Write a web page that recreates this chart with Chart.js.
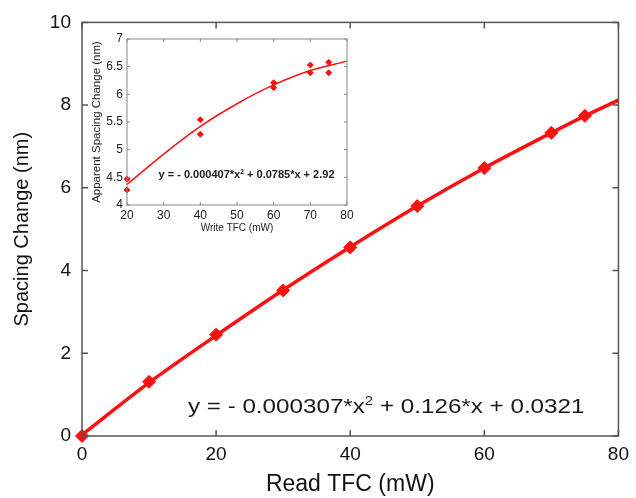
<!DOCTYPE html>
<html>
<head>
<meta charset="utf-8">
<script src="https://cdn.jsdelivr.net/npm/chart.js@4.4.1/dist/chart.umd.min.js"></script>
<style>
  html, body { margin: 0; padding: 0; background: #fff; }
  #wrap { position: relative; width: 636px; height: 498px; }
  #mainChart { position: absolute; left: 0; top: 0; }
  #insetChart { position: absolute; left: 86px; top: 26px; }
</style>
</head>
<body>
<div id="wrap">
  <canvas id="mainChart" width="636" height="498"></canvas>
  <canvas id="insetChart" width="272" height="212"></canvas>
</div>
<script>
// main figure: read TFC vs spacing change
const readTfc = [0, 10, 20, 30, 40, 50, 60, 70, 75];
const spacingChange = [0, 1.31, 2.45, 3.52, 4.56, 5.56, 6.48, 7.33, 7.74];
// fitted curve
const fitX = [0, 10, 20, 30, 40, 50, 60, 70, 75, 80];
const fitY = [0.03, 1.29, 2.43, 3.53, 4.57, 5.56, 6.48, 7.33, 7.74, 8.12];
const mainXTicks = [0, 20, 40, 60, 80];
const mainYTicks = [0, 2, 4, 6, 8, 10];

// inset: write TFC vs apparent spacing change
const writeTfc = [20, 20, 40, 40, 60, 60, 70, 70, 75, 75];
const apparentChange = [4.47, 4.27, 5.54, 5.28, 6.21, 6.12, 6.53, 6.39, 6.58, 6.39];
const insetFitX = [20, 30, 40, 50, 60, 70, 80];
const insetFitY = [4.37, 4.92, 5.42, 5.83, 6.17, 6.43, 6.60];
const insetXTicks = [20, 30, 40, 50, 60, 70, 80];
const insetYTicks = [4, 4.5, 5, 5.5, 6, 6.5, 7];

const FONT = "'Liberation Sans', Arial, sans-serif";
const RED = '#ff1010';

function pts(xs, ys) {
    return xs.map((x, i) => ({ x: x, y: ys[i] }));
}

// box around the plot area plus ticks pointing inwards on all four sides
function boxPlugin(len, color, width) {
    return {
        id: 'boxTicks',
        afterDatasetsDraw(chart) {
            const ctx = chart.ctx;
            const a = chart.chartArea;
            const xs = chart.scales.x, ys = chart.scales.y;
            ctx.save();
            ctx.strokeStyle = color;
            ctx.lineWidth = width;
            ctx.strokeRect(a.left, a.top, a.right - a.left, a.bottom - a.top);
            ctx.beginPath();
            xs.ticks.forEach(t => {
                const px = xs.getPixelForValue(t.value);
                ctx.moveTo(px, a.bottom); ctx.lineTo(px, a.bottom - len);
                ctx.moveTo(px, a.top); ctx.lineTo(px, a.top + len);
            });
            ys.ticks.forEach(t => {
                const py = ys.getPixelForValue(t.value);
                ctx.moveTo(a.left, py); ctx.lineTo(a.left + len, py);
                ctx.moveTo(a.right, py); ctx.lineTo(a.right - len, py);
            });
            ctx.stroke();
            ctx.restore();
        }
    };
}

// equation label, drawn with a raised "2"; stretch widens it like the source image
function equationPlugin(parts, xVal, yVal, size, weight, stretch) {
    return {
        id: 'equation',
        afterDraw(chart) {
            const ctx = chart.ctx;
            const x0 = chart.scales.x.getPixelForValue(xVal);
            const py = chart.scales.y.getPixelForValue(yVal);
            ctx.save();
            ctx.translate(x0, py);
            ctx.scale(stretch, 1);
            ctx.fillStyle = '#1a1a1a';
            ctx.textBaseline = 'alphabetic';
            let px = 0;
            parts.forEach(p => {
                const s = p.sup ? size * 0.62 : size;
                ctx.font = weight + ' ' + s + 'px ' + FONT;
                ctx.fillText(p.t, px, p.sup ? -size * 0.42 : 0);
                px += ctx.measureText(p.t).width;
            });
            ctx.restore();
        }
    };
}

function fixedTicks(values) {
    return function (scale) {
        scale.ticks = values.map(v => ({ value: v }));
    };
}

new Chart(document.getElementById('mainChart'), {
    type: 'scatter',
    data: {
        datasets: [
            {
                type: 'line',
                data: pts(fitX, fitY),
                borderColor: RED,
                borderWidth: 3.5,
                pointRadius: 0,
                tension: 0.3,
                fill: false
            },
            {
                data: pts(readTfc, spacingChange),
                backgroundColor: RED,
                borderColor: RED,
                pointStyle: 'rectRot',
                pointRadius: 6.5,
                borderWidth: 1
            }
        ]
    },
    options: {
        responsive: false,
        animation: false,
        clip: false,
        layout: { padding: { left: 0, right: 14, top: 21, bottom: 0 } },
        plugins: { legend: { display: false }, tooltip: { enabled: false } },
        scales: {
            x: {
                type: 'linear', min: 0, max: 80,
                afterBuildTicks: fixedTicks(mainXTicks),
                afterFit(s) { s.height = 62; },
                grid: { display: false, drawTicks: false },
                border: { display: false },
                ticks: { color: '#111', font: { family: FONT, size: 19 }, padding: 7, maxRotation: 0 },
                title: { display: true, text: 'Read TFC (mW)', color: '#111', font: { family: FONT, size: 23 }, padding: 0 }
            },
            y: {
                type: 'linear', min: 0, max: 10,
                afterBuildTicks: fixedTicks(mainYTicks),
                afterFit(s) { s.width = 82; },
                grid: { display: false, drawTicks: false },
                border: { display: false },
                ticks: { color: '#111', font: { family: FONT, size: 19 }, padding: 11 },
                title: { display: true, text: 'Spacing Change (nm)', color: '#111', font: { family: FONT, size: 20 }, padding: 10 }
            }
        }
    },
    plugins: [
        boxPlugin(6, '#555', 1.5),
        equationPlugin([
            { t: 'y = - 0.000307*x' }, { t: '2', sup: true }, { t: ' + 0.126*x + 0.0321' }
        ], 15.8, 0.55, 20, 'normal', 1.21)
    ]
});

new Chart(document.getElementById('insetChart'), {
    type: 'scatter',
    data: {
        datasets: [
            {
                type: 'line',
                data: pts(insetFitX, insetFitY),
                borderColor: RED,
                borderWidth: 1.5,
                pointRadius: 0,
                tension: 0.3,
                fill: false
            },
            {
                data: pts(writeTfc, apparentChange),
                backgroundColor: RED,
                borderColor: RED,
                pointStyle: 'rectRot',
                pointRadius: 3,
                borderWidth: 1
            }
        ]
    },
    options: {
        responsive: false,
        animation: false,
        clip: false,
        layout: { padding: { left: 0, right: 11, top: 13, bottom: 0 } },
        plugins: { legend: { display: false }, tooltip: { enabled: false } },
        scales: {
            x: {
                type: 'linear', min: 20, max: 80,
                afterBuildTicks: fixedTicks(insetXTicks),
                afterFit(s) { s.height = 33; },
                grid: { display: false, drawTicks: false },
                border: { display: false },
                ticks: { color: '#222', font: { family: FONT, size: 12 }, padding: 3, maxRotation: 0 },
                title: { display: true, text: 'Write TFC (mW)', color: '#222', font: { family: FONT, size: 10 }, padding: 4 }
            },
            y: {
                type: 'linear', min: 4, max: 7,
                afterBuildTicks: fixedTicks(insetYTicks),
                afterFit(s) { s.width = 41; },
                grid: { display: false, drawTicks: false },
                border: { display: false },
                ticks: { color: '#222', font: { family: FONT, size: 12 }, padding: 4,
                         callback: v => String(v) },
                title: { display: true, text: 'Apparent Spacing Change (nm)', color: '#222', font: { family: FONT, size: 11.5 }, padding: 4 }
            }
        }
    },
    plugins: [
        boxPlugin(3, '#888', 1),
        equationPlugin([
            { t: 'y = - 0.000407*x' }, { t: '2', sup: true }, { t: ' + 0.0785*x + 2.92' }
        ], 28.6, 4.48, 11, 'bold', 1)
    ]
});
</script>
</body>
</html>
